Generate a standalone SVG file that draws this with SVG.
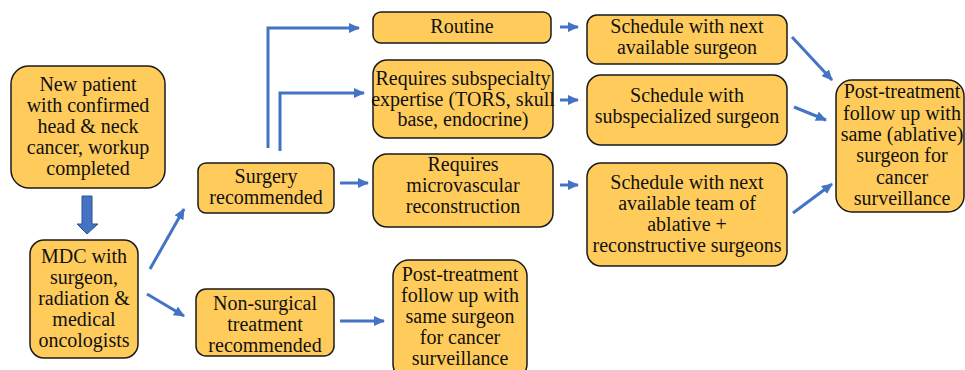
<svg xmlns="http://www.w3.org/2000/svg" width="965" height="370" viewBox="0 0 965 370">
<defs>
<style>
.box{fill:#FFCC5C;stroke:#1a1a1a;stroke-width:1.5}
.t{font-family:"Liberation Serif","Times New Roman",serif;font-size:20px;fill:#111;text-anchor:middle}
.c{fill:none;stroke:#4472C4;stroke-width:3}
</style>
<marker id="ah" markerUnits="userSpaceOnUse" markerWidth="12" markerHeight="12" refX="10" refY="5" orient="auto">
<path d="M0,0 L11,5 L0,10 z" fill="#4472C4"/>
</marker>
</defs>
<rect width="965" height="370" fill="#fff"/>

<g id="connectors">
<path class="c" d="M150,269 L184,209" marker-end="url(#ah)"/>
<path class="c" d="M147,294 L184,316" marker-end="url(#ah)"/>
<path class="c" d="M268,148 V28 H359" marker-end="url(#ah)"/>
<path class="c" d="M280,151 V93 H364" marker-end="url(#ah)"/>
<path class="c" d="M340,183 H368" marker-end="url(#ah)"/>
<path class="c" d="M340,321 H384" marker-end="url(#ah)"/>
<path class="c" d="M560,27 H578" marker-end="url(#ah)"/>
<path class="c" d="M560,100 H578" marker-end="url(#ah)"/>
<path class="c" d="M560,185 H578" marker-end="url(#ah)"/>
<path class="c" d="M792,37 L832,80" marker-end="url(#ah)"/>
<path class="c" d="M794,107 L826,120" marker-end="url(#ah)"/>
<path class="c" d="M793,213 L832,184" marker-end="url(#ah)"/>
<path d="M82,196 H92 V224 H98 L87,234 L77,224 H82 Z" fill="#4472C4" stroke="#2F528F" stroke-width="1"/>
</g>

<g id="new-patient">
<rect class="box" x="11" y="66" width="154" height="122" rx="18"/>
<text class="t" x="88" y="91">New patient</text>
<text class="t" x="88" y="112">with confirmed</text>
<text class="t" x="88" y="133">head &amp; neck</text>
<text class="t" x="88" y="154">cancer, workup</text>
<text class="t" x="88" y="175">completed</text>
</g>

<g id="mdc">
<rect class="box" x="30" y="240" width="108" height="118" rx="14"/>
<text class="t" x="84" y="263">MDC with</text>
<text class="t" x="84" y="284">surgeon,</text>
<text class="t" x="84" y="305">radiation &amp;</text>
<text class="t" x="84" y="326">medical</text>
<text class="t" x="84" y="347">oncologists</text>
</g>

<g id="surgery">
<rect class="box" x="198" y="163" width="136" height="50" rx="8"/>
<text class="t" x="266" y="183">Surgery</text>
<text class="t" x="266" y="204">recommended</text>
</g>

<g id="non-surgical">
<rect class="box" x="196" y="289" width="138" height="67" rx="10"/>
<text class="t" x="265" y="310">Non-surgical</text>
<text class="t" x="265" y="331">treatment</text>
<text class="t" x="265" y="352">recommended</text>
</g>

<g id="routine">
<rect class="box" x="373" y="12" width="178" height="31" rx="8"/>
<text class="t" x="462" y="33">Routine</text>
</g>

<g id="subspecialty">
<rect class="box" x="373" y="60" width="180" height="78" rx="14"/>
<text class="t" x="463" y="85">Requires subspecialty</text>
<text class="t" x="463" y="106">expertise (TORS, skull</text>
<text class="t" x="463" y="126">base, endocrine)</text>
</g>

<g id="microvascular">
<rect class="box" x="373" y="154" width="180" height="73" rx="14"/>
<text class="t" x="463" y="171">Requires</text>
<text class="t" x="463" y="192">microvascular</text>
<text class="t" x="463" y="213">reconstruction</text>
</g>

<g id="post-bottom">
<rect class="box" x="393" y="260" width="134" height="120" rx="16"/>
<text class="t" x="460" y="281">Post-treatment</text>
<text class="t" x="460" y="302">follow up with</text>
<text class="t" x="460" y="323">same surgeon</text>
<text class="t" x="460" y="344">for cancer</text>
<text class="t" x="460" y="365">surveillance</text>
</g>

<g id="schedule-next">
<rect class="box" x="587" y="15" width="200" height="49" rx="10"/>
<text class="t" x="687" y="33">Schedule with next</text>
<text class="t" x="687" y="54">available surgeon</text>
</g>

<g id="schedule-sub">
<rect class="box" x="587" y="75" width="200" height="70" rx="14"/>
<text class="t" x="687" y="102">Schedule with</text>
<text class="t" x="687" y="123">subspecialized surgeon</text>
</g>

<g id="schedule-team">
<rect class="box" x="587" y="163" width="200" height="103" rx="14"/>
<text class="t" x="687" y="189">Schedule with next</text>
<text class="t" x="687" y="210">available team of</text>
<text class="t" x="687" y="231">ablative +</text>
<text class="t" x="687" y="252">reconstructive surgeons</text>
</g>

<g id="post-right">
<rect class="box" x="836" y="80" width="128" height="132" rx="16"/>
<text class="t" x="902" y="98">Post-treatment</text>
<text class="t" x="902" y="119.5">follow up with</text>
<text class="t" x="902" y="141">same (ablative)</text>
<text class="t" x="902" y="162">surgeon for</text>
<text class="t" x="902" y="183.5">cancer</text>
<text class="t" x="902" y="205">surveillance</text>
</g>
</svg>
